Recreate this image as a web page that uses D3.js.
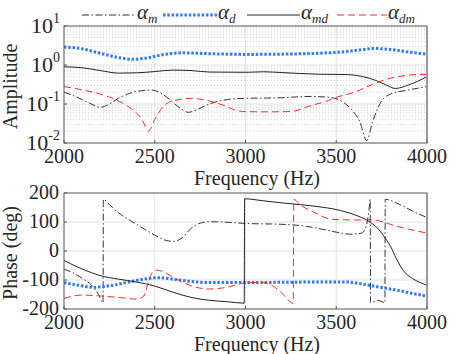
<!DOCTYPE html>
<html>
<head>
<meta charset="utf-8">
<script src="https://cdn.jsdelivr.net/npm/d3@7"></script>
<style>
  body { margin: 0; background: #fff; }
  svg { display: block; }
  svg text { font-family: "Liberation Serif", "DejaVu Serif", "Times New Roman", serif; }
</style>
</head>
<body>
<div id="chart"></div>
<script>
// Amplitude / phase of the four coefficients vs frequency

// ---- data ----
const freqTicks = [2000, 2500, 3000, 3500, 4000];
const ampTicks = [-2, -1, 0, 1];          // exponents of 10
const phaseTicks = [-200, -100, 0, 100, 200];

// amplitude
const ampFreqM  = [2000, 2050, 2100, 2150, 2200, 2250, 2300, 2350, 2400, 2480, 2550, 2600, 2650, 2685, 2720, 2800, 2900, 3000, 3100, 3200, 3350, 3450, 3520, 3580, 3630, 3668, 3700, 3750, 3800, 3900, 4000];
const ampM      = [0.20, 0.165, 0.13, 0.10, 0.082, 0.10, 0.14, 0.18, 0.21, 0.228, 0.17, 0.11, 0.072, 0.061, 0.068, 0.10, 0.13, 0.14, 0.142, 0.145, 0.156, 0.15, 0.125, 0.075, 0.035, 0.0115, 0.035, 0.12, 0.18, 0.23, 0.28];

const ampFreqD  = [2000, 2100, 2200, 2300, 2380, 2450, 2550, 2650, 2800, 3000, 3200, 3400, 3550, 3650, 3710, 3800, 3900, 4000];
const ampD      = [2.9, 2.6, 2.0, 1.55, 1.4, 1.5, 1.85, 2.05, 1.95, 1.87, 1.9, 2.0, 2.2, 2.5, 2.65, 2.5, 2.15, 1.9];

const ampFreqMD = [2000, 2100, 2200, 2300, 2400, 2500, 2600, 2700, 2800, 3000, 3100, 3200, 3400, 3550, 3650, 3720, 3780, 3825, 3900, 4000];
const ampMD     = [0.90, 0.85, 0.72, 0.62, 0.63, 0.68, 0.74, 0.72, 0.66, 0.65, 0.67, 0.64, 0.58, 0.57, 0.50, 0.40, 0.30, 0.25, 0.31, 0.50];

const ampFreqDM = [2000, 2100, 2200, 2300, 2380, 2430, 2465, 2500, 2550, 2600, 2700, 2800, 2900, 2950, 3000, 3100, 3250, 3350, 3450, 3500, 3600, 3700, 3800, 3900, 4000];
const ampDM     = [0.28, 0.23, 0.18, 0.12, 0.07, 0.04, 0.02, 0.04, 0.09, 0.12, 0.14, 0.12, 0.085, 0.068, 0.064, 0.063, 0.064, 0.088, 0.12, 0.148, 0.2, 0.32, 0.46, 0.55, 0.58];

// phase (deg)
const phFreqM  = [2000, 2050, 2100, 2150, 2190, 2215, 2217, 2250, 2300, 2400, 2500, 2560, 2600, 2650, 2700, 2750, 2800, 2900, 3000, 3200, 3300, 3400, 3500, 3580, 3640, 3665, 3680, 3687, 3689, 3730, 3768, 3770, 3850, 3920, 4000];
const phaseM   = [-63, -75, -94, -117, -150, -178, 178, 160, 132, 92, 55, 37, 33, 45, 78, 96, 101, 99, 95, 92, 88, 78, 65, 58, 62, 85, 140, 178, -178, -170, -178, 178, 160, 138, 115];

const phFreqD  = [2000, 2080, 2160, 2250, 2350, 2450, 2520, 2600, 2700, 2800, 3000, 3200, 3400, 3560, 3650, 3750, 3850, 3950, 4000];
const phaseD   = [-109, -118, -125, -120, -108, -96, -92, -97, -105, -109, -109, -108, -107, -107, -115, -126, -137, -150, -155];

const phFreqMD = [2000, 2100, 2200, 2300, 2400, 2500, 2600, 2700, 2800, 2900, 2993, 2995, 3100, 3200, 3300, 3400, 3500, 3600, 3680, 3740, 3770, 3800, 3830, 3870, 3920, 3960, 4000];
const phaseMD  = [-33, -62, -85, -97, -107, -121, -142, -160, -170, -175, -180, 180, 173, 166, 160, 153, 143, 125, 102, 70, 44, 15, -25, -68, -95, -108, -118];

const phFreqDM = [2000, 2100, 2200, 2300, 2400, 2440, 2470, 2510, 2550, 2600, 2700, 2800, 2900, 3000, 3100, 3150, 3200, 3263, 3266, 3300, 3370, 3480, 3600, 3690, 3830, 3920, 4000];
const phaseDM  = [-163, -152, -155, -160, -166, -155, -95, -66, -72, -90, -120, -131, -125, -110, -109, -120, -145, -180, 178, 160, 136, 109, 107, 108, 86, 72, 62];

// ---- styles ----
const STYLES = {
  m:  { stroke: "#333", width: 1, dash: "7,2.5,1.5,2.5", sub: "m" },
  d:  { stroke: "#2f7cf5", width: 3, dash: "2.5,1.8", sub: "d" },
  md: { stroke: "#222", width: 1, dash: null, sub: "md" },
  dm: { stroke: "#ff2a2a", width: 1, dash: "7,4", sub: "dm" }
};

const W = 470, H = 354;
const left = 64, right = 427;
const textColor = "#262626";
const serif = "Liberation Serif, DejaVu Serif, Times New Roman, serif";

const svg = d3.select("#chart").append("svg")
  .attr("width", W).attr("height", H)
  .attr("font-family", serif);

const x = d3.scaleLinear().domain([2000, 4000]).range([left, right]);

function drawPanel(top, bottom, yScale, opts) {
  const g = svg.append("g");
  const clipId = "clip" + top;
  svg.append("defs").append("clipPath").attr("id", clipId)
    .append("rect").attr("x", left).attr("y", top)
    .attr("width", right - left).attr("height", bottom - top);

  // minor grid (log panel only)
  if (opts.minor) {
    opts.minor.forEach(v => {
      g.append("line")
        .attr("x1", left).attr("x2", right)
        .attr("y1", yScale(v)).attr("y2", yScale(v))
        .attr("stroke", "#c8c8c8").attr("stroke-width", 0.8)
        .attr("stroke-dasharray", "1,2");
    });
  }
  // major grid
  opts.major.forEach(v => {
    g.append("line")
      .attr("x1", left).attr("x2", right)
      .attr("y1", yScale(v)).attr("y2", yScale(v))
      .attr("stroke", "#e2e2e2").attr("stroke-width", 1);
  });
  freqTicks.slice(1, -1).forEach(f => {
    g.append("line")
      .attr("x1", x(f)).attr("x2", x(f))
      .attr("y1", top).attr("y2", bottom)
      .attr("stroke", "#e2e2e2").attr("stroke-width", 1);
  });

  // curves
  const line = d3.line()
    .x(d => x(d[0]))
    .y(d => yScale(d[1]))
    .curve(d3.curveMonotoneX);

  const lines = g.append("g").attr("clip-path", `url(#${clipId})`);
  opts.series.forEach(s => {
    const st = STYLES[s.key];
    lines.append("path")
      .datum(d3.zip(s.f, s.v))
      .attr("d", line)
      .attr("fill", "none")
      .attr("stroke", st.stroke)
      .attr("stroke-width", st.width)
      .attr("stroke-dasharray", st.dash);
  });

  // box
  g.append("rect")
    .attr("x", left).attr("y", top)
    .attr("width", right - left).attr("height", bottom - top)
    .attr("fill", "none").attr("stroke", "#555").attr("stroke-width", 1);
  g.append("line")
    .attr("x1", right).attr("x2", right).attr("y1", top).attr("y2", bottom)
    .attr("stroke", "#999").attr("stroke-width", 2);

  // ticks
  freqTicks.forEach(f => {
    g.append("line")
      .attr("x1", x(f)).attr("x2", x(f))
      .attr("y1", bottom).attr("y2", bottom - 3)
      .attr("stroke", "#555");
    g.append("text")
      .attr("x", x(f)).attr("y", bottom + 20)
      .attr("text-anchor", "middle")
      .attr("font-size", 20).attr("fill", textColor)
      .text(f);
  });

  g.append("text")
    .attr("x", 257).attr("y", bottom + 42)
    .attr("text-anchor", "middle")
    .attr("font-size", 20).attr("fill", textColor)
    .text("Frequency (Hz)");

  g.append("text")
    .attr("transform", `translate(17,${(top + bottom) / 2 + 2}) rotate(-90)`)
    .attr("text-anchor", "middle")
    .attr("font-size", 20).attr("fill", textColor)
    .text(opts.ylabel);

  return g;
}

// ---- top panel: amplitude ----
const yAmp = d3.scaleLog().domain([1e-2, 1e1]).range([143, 26]);
const minorAmp = [];
[-2, -1, 0].forEach(e => {
  for (let k = 2; k <= 9; k++) minorAmp.push(k * Math.pow(10, e));
});

const gTop = drawPanel(26, 143, yAmp, {
  minor: minorAmp,
  major: [1e-1, 1e0],
  ylabel: "Amplitude",
  series: [
    { key: "m",  f: ampFreqM,  v: ampM },
    { key: "d",  f: ampFreqD,  v: ampD },
    { key: "md", f: ampFreqMD, v: ampMD },
    { key: "dm", f: ampFreqDM, v: ampDM }
  ]
});

ampTicks.forEach(e => {
  const yy = yAmp(Math.pow(10, e));
  gTop.append("line")
    .attr("x1", left).attr("x2", left + 3)
    .attr("y1", yy).attr("y2", yy).attr("stroke", "#555");
  const t = gTop.append("text")
    .attr("x", 60).attr("y", yy + 7)
    .attr("text-anchor", "end")
    .attr("fill", textColor);
  t.append("tspan").attr("font-size", 22).text("10");
  t.append("tspan").attr("font-size", 14).attr("dy", -10).text(e < 0 ? "-" + (-e) : e);
});

// ---- bottom panel: phase ----
const yPh = d3.scaleLinear().domain([-200, 200]).range([309, 193]);

const gBot = drawPanel(193, 309, yPh, {
  major: [-100, 0, 100],
  ylabel: "Phase (deg)",
  series: [
    { key: "m",  f: phFreqM,  v: phaseM },
    { key: "d",  f: phFreqD,  v: phaseD },
    { key: "md", f: phFreqMD, v: phaseMD },
    { key: "dm", f: phFreqDM, v: phaseDM }
  ]
});

phaseTicks.forEach(v => {
  const yy = yPh(v);
  gBot.append("line")
    .attr("x1", left).attr("x2", left + 3)
    .attr("y1", yy).attr("y2", yy).attr("stroke", "#555");
  gBot.append("text")
    .attr("x", 59).attr("y", yy + 6)
    .attr("text-anchor", "end")
    .attr("font-size", 20).attr("fill", textColor)
    .text(v);
});

// ---- legend ----
const legendItems = [
  { key: "m",  x0: 82,  x1: 136 },
  { key: "d",  x0: 163, x1: 217 },
  { key: "md", x0: 247, x1: 300 },
  { key: "dm", x0: 337, x1: 387 }
];
const legend = svg.append("g");
legendItems.forEach(it => {
  const st = STYLES[it.key];
  legend.append("line")
    .attr("x1", it.x0).attr("x2", it.x1)
    .attr("y1", 15).attr("y2", 15)
    .attr("stroke", st.stroke)
    .attr("stroke-width", st.width)
    .attr("stroke-dasharray", st.dash);
  const t = legend.append("text")
    .attr("x", it.x1 + 1).attr("y", 19)
    .attr("fill", textColor)
    .attr("font-style", "italic");
  t.append("tspan").attr("font-size", 21).text("α");
  t.append("tspan").attr("font-size", 13).attr("dy", 4).text(st.sub);
});
</script>
</body>
</html>
